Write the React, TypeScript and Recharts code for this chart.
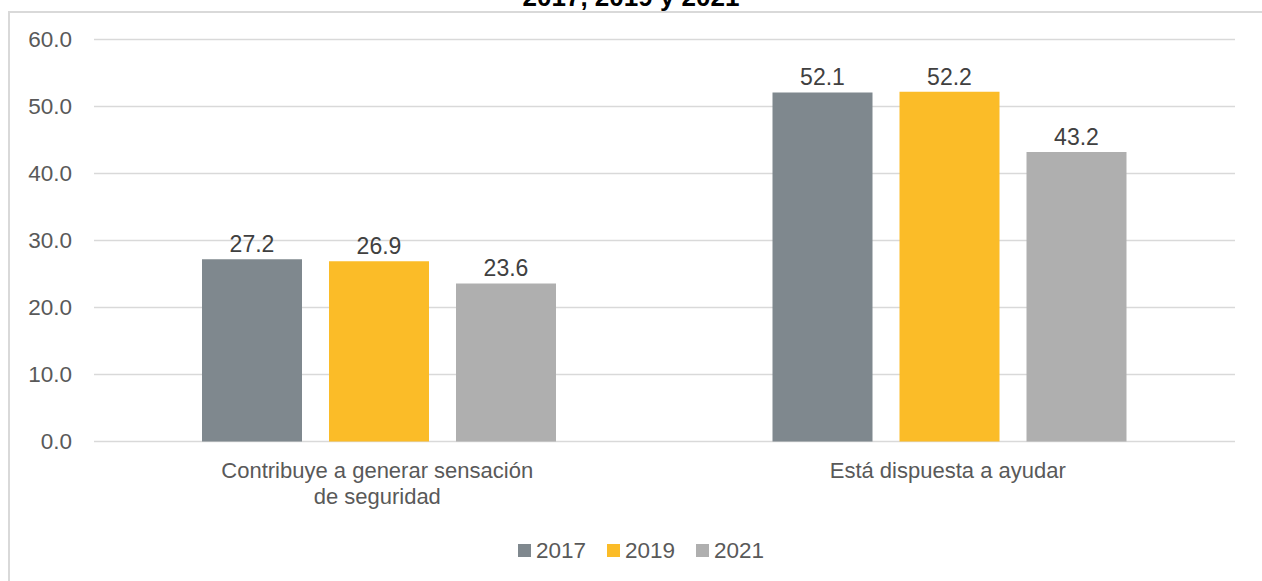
import { BarChart, Bar, XAxis, YAxis, CartesianGrid, Legend, LabelList } from "recharts"

const categories = ["Contribuye a generar sensación de seguridad", "Está dispuesta a ayudar"]
const categoryLines = [["Contribuye a generar sensación", "de seguridad"], ["Está dispuesta a ayudar"]]
const years = ["2017", "2019", "2021"]
const values2017 = [27.2, 52.1]
const values2019 = [26.9, 52.2]
const values2021 = [23.6, 43.2]
const yTicks = [0, 10, 20, 30, 40, 50, 60]

const colors = ["#7F888E", "#FBBC28", "#AFAFAF"]

const data = categories.map((name, i) => ({
  name,
  "2017": values2017[i],
  "2019": values2019[i],
  "2021": values2021[i],
}))

const font = "'Liberation Sans', Arial, sans-serif"

function CategoryTick(props: any) {
  const { x, y, payload } = props
  const idx = categories.indexOf(payload.value)
  const lines = idx >= 0 ? categoryLines[idx] : [String(payload.value)]
  return (
    <text x={x - 2} y={y} textAnchor="middle" fontSize={22} fontFamily={font} fill="#595959">
      {lines.map((ln, i) => (
        <tspan key={i} x={x - 2} dy={i === 0 ? 16 : 26}>
          {ln}
        </tspan>
      ))}
    </text>
  )
}

function LegendContent(props: any) {
  const items = props.payload || []
  return (
    <div style={{ display: "flex", justifyContent: "center", paddingTop: 17, fontFamily: font, fontSize: 22.5, color: "#595959" }}>
      {items.map((it: any, i: number) => (
        <div key={i} style={{ display: "flex", alignItems: "center", marginRight: i < items.length - 1 ? 21 : 0 }}>
          <span style={{ display: "inline-block", width: 13, height: 13, background: it.color, marginRight: 5 }} />
          <span style={{ lineHeight: "24px" }}>{it.value}</span>
        </div>
      ))}
    </div>
  )
}

export default function App() {
  return (
    <div style={{ position: "absolute", left: 0, top: 0, width: 1262, height: 581, overflow: "hidden", background: "#fff" }}>
      <div style={{ position: "absolute", left: 8, top: 11, width: 1300, height: 700, border: "2px solid #D9D9D9", boxSizing: "border-box" }} />
      <div
        style={{
          position: "absolute",
          left: 0,
          width: 1262,
          top: -16,
          textAlign: "center",
          fontFamily: font,
          fontWeight: "bold",
          fontSize: 26,
          lineHeight: "26px",
          color: "#000",
        }}
      >
        2017, 2019 y 2021
      </div>
      <div style={{ position: "absolute", left: 0, top: 0 }}>
        <BarChart
          width={1262}
          height={581}
          data={data}
          margin={{ top: 39.5, right: 27, left: 0, bottom: 0 }}
          barSize={100}
          barGap={27}
        >
          <CartesianGrid vertical={false} stroke="#D9D9D9" strokeWidth={1.5} />
          <XAxis
            dataKey="name"
            axisLine={false}
            tickLine={false}
            tickSize={0}
            tickMargin={20}
            height={80}
            interval={0}
            tick={<CategoryTick />}
          />
          <YAxis
            width={94}
            domain={[0, 60]}
            ticks={yTicks}
            axisLine={false}
            tickLine={false}
            tickSize={0}
            tickMargin={22}
            tickFormatter={(v: number) => v.toFixed(1)}
            tick={{ fontSize: 22.5, fontFamily: font, fill: "#595959" }}
          />
          <Legend verticalAlign="bottom" height={59.5} wrapperStyle={{ left: 0, width: 1282 }} content={<LegendContent />} />
          {years.map((yr, i) => (
            <Bar key={yr} dataKey={yr} fill={colors[i]} isAnimationActive={false}>
              <LabelList
                dataKey={yr}
                position="top"
                offset={7}
                formatter={(v: any) => Number(v).toFixed(1)}
                style={{ fontSize: 23, fontFamily: font, fill: "#404040" }}
              />
            </Bar>
          ))}
        </BarChart>
      </div>
    </div>
  )
}
